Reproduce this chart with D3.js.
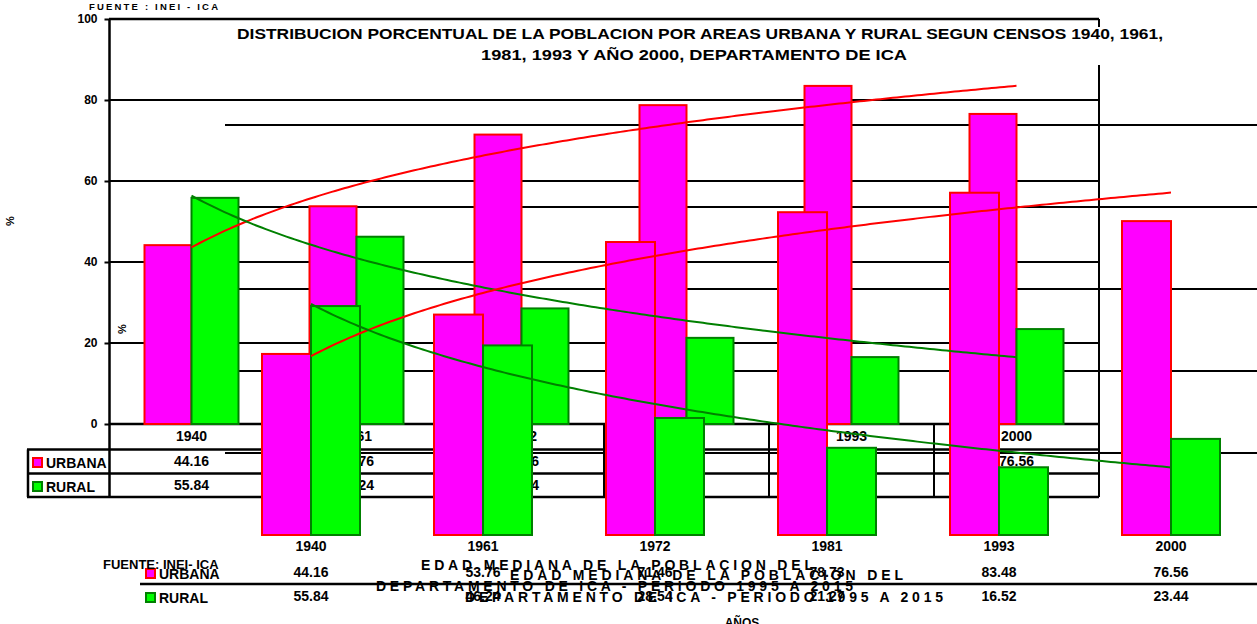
<!DOCTYPE html>
<html>
<head>
<meta charset="utf-8">
<script src="https://cdn.jsdelivr.net/npm/d3@7"></script>
<style>
  html, body { margin: 0; padding: 0; background: #fff; }
  svg { display: block; }
  text { font-family: "Liberation Sans", Arial, sans-serif; font-weight: bold; fill: #000; }
</style>
</head>
<body>
<svg id="chart" width="1257" height="624"></svg>
<script>
// Census years and the urban / rural share of the population (%)
const years = ["1940", "1961", "1972", "1981", "1993", "2000"];
const urbana = [44.16, 53.76, 71.46, 78.73, 83.48, 76.56];
const rural = [55.84, 46.24, 28.54, 21.27, 16.52, 23.44];
const yTicks = [0, 20, 40, 60, 80, 100];
const gridTicks = [20, 40, 60, 80];
const seriesNames = ["URBANA", "RURAL"];

const titleLines = [
  "DISTRIBUCION PORCENTUAL DE LA POBLACION POR AREAS URBANA Y RURAL SEGUN CENSOS 1940, 1961,",
  "1981, 1993 Y  AÑO 2000, DEPARTAMENTO DE ICA"
];
const noteLines = [
  "EDAD MEDIANA DE LA POBLACION DEL",
  "DEPARTAMENTO DE ICA - PERIODO 1995 A 2015"
];

const COL = {
  urbanaFill: "#ff00ff", urbanaStroke: "#ff0000",
  ruralFill: "#00ff00", ruralStroke: "#008000"
};

const svg = d3.select("#chart");
svg.append("rect").attr("width", 1257).attr("height", 624).attr("fill", "#fff");

const rows = years.map((y, i) => ({ year: y, URBANA: urbana[i], RURAL: rural[i] }));

// Logarithmic trend y = a*ln(x) + b over category index x = 1..n
function logFit(vals) {
  const xs = vals.map((_, i) => Math.log(i + 1));
  const mx = d3.mean(xs), my = d3.mean(vals);
  let sxy = 0, sxx = 0;
  xs.forEach((x, i) => { sxy += (x - mx) * (vals[i] - my); sxx += (x - mx) * (x - mx); });
  const a = sxy / sxx, b = my - a * mx;
  return t => a * Math.log(t) + b;
}
const fitU = logFit(urbana);
const fitR = logFit(rural);

// Back panel (with data table below the axis)
const A = {
  x: d3.scaleBand().domain(years).range([109, 1099]),
  y: d3.scaleLinear().domain([0, 100]).range([424, 19]),
  barW: 47
};
// Front panel
const B = {
  x: d3.scaleBand().domain(years).range([225, 1257]),
  y: d3.scaleLinear().domain([0, 100]).range([535, 125]),
  barW: 49
};
[A, B].forEach(p => {
  const bw = p.x.bandwidth();
  p.sub = d3.scaleBand().domain(seriesNames).range([bw / 2 - p.barW, bw / 2 + p.barW]);
  p.cx = y => p.x(y) + bw / 2;
});

const gGrid = svg.append("g");
const gTableA = svg.append("g");
const gBarsA = svg.append("g");
const gBarsB = svg.append("g");
const gTrend = svg.append("g");
const gText = svg.append("g");

// --- gridlines ---
gGrid.selectAll("line.ga").data(gridTicks).join("line")
  .attr("x1", 109).attr("x2", 1099)
  .attr("y1", d => A.y(d)).attr("y2", d => A.y(d))
  .attr("stroke", "#000").attr("stroke-width", 2);
gGrid.selectAll("line.gb").data(gridTicks.concat([100])).join("line")
  .attr("x1", 225).attr("x2", 1257)
  .attr("y1", d => B.y(d)).attr("y2", d => B.y(d))
  .attr("stroke", "#000").attr("stroke-width", 2);

// plot frame of the back panel
gGrid.append("line").attr("x1", 109).attr("x2", 1099).attr("y1", A.y(100)).attr("y2", A.y(100))
  .attr("stroke", "#000").attr("stroke-width", 2.5);
gGrid.append("line").attr("x1", 1099).attr("x2", 1099).attr("y1", A.y(100)).attr("y2", 497)
  .attr("stroke", "#000").attr("stroke-width", 2);

// y axis of the back panel
const axisA = d3.axisLeft(A.y).tickValues(yTicks).tickSize(5).tickPadding(7);
const gAxis = gGrid.append("g").attr("transform", "translate(109.5,0)").call(axisA);
gAxis.select(".domain").remove();
gAxis.selectAll(".tick line").attr("stroke", "#000").attr("stroke-width", 2);
gAxis.selectAll(".tick text").attr("font-size", 12).attr("font-family", "Liberation Sans, Arial, sans-serif")
  .attr("font-weight", "bold").attr("fill", "#000");
gGrid.append("line").attr("x1", 109.5).attr("x2", 109.5).attr("y1", A.y(100)).attr("y2", 497)
  .attr("stroke", "#000").attr("stroke-width", 2.5);

// --- data table under the back panel ---
const tA = { top: A.y(0), r1: 449.5, r2: 473.5, bottom: 497 };
[[109, tA.top], [27, tA.r1], [27, tA.r2], [27, tA.bottom]].forEach(([x1, y]) => {
  gTableA.append("line").attr("x1", x1).attr("x2", 1099).attr("y1", y).attr("y2", y)
    .attr("stroke", "#000").attr("stroke-width", 2.5);
});
gTableA.append("line").attr("x1", 28).attr("x2", 28).attr("y1", tA.r1).attr("y2", tA.bottom)
  .attr("stroke", "#000").attr("stroke-width", 2.5);
gTableA.selectAll("line.col").data(years.slice(1)).join("line")
  .attr("x1", d => A.x(d)).attr("x2", d => A.x(d))
  .attr("y1", tA.top).attr("y2", tA.bottom)
  .attr("stroke", "#000").attr("stroke-width", 2);

gTableA.selectAll("text.yr").data(years).join("text")
  .attr("x", d => A.cx(d)).attr("y", 441).attr("text-anchor", "middle").attr("font-size", 14)
  .text(d => d);
gTableA.selectAll("text.vu").data(rows).join("text")
  .attr("x", d => A.cx(d.year)).attr("y", 466).attr("text-anchor", "middle").attr("font-size", 14)
  .text(d => d.URBANA.toFixed(2));
gTableA.selectAll("text.vr").data(rows).join("text")
  .attr("x", d => A.cx(d.year)).attr("y", 490).attr("text-anchor", "middle").attr("font-size", 14)
  .text(d => d.RURAL.toFixed(2));

function legendKey(g, x, y, name) {
  const urb = name === "URBANA";
  g.append("rect").attr("x", x).attr("y", y).attr("width", 9).attr("height", 9)
    .attr("fill", urb ? COL.urbanaFill : COL.ruralFill)
    .attr("stroke", urb ? COL.urbanaStroke : COL.ruralStroke).attr("stroke-width", 2);
  g.append("text").attr("x", x + 13).attr("y", y + 9.5).attr("font-size", 14).text(name);
}
legendKey(gTableA, 33, 458, "URBANA");
legendKey(gTableA, 33, 482, "RURAL");

// --- bars ---
function drawBars(g, p) {
  const grp = g.selectAll("g").data(rows).join("g")
    .attr("transform", d => `translate(${p.x(d.year)},0)`);
  grp.selectAll("rect").data(d => seriesNames.map(s => ({ s, v: d[s] }))).join("rect")
    .attr("x", d => p.sub(d.s)).attr("width", p.sub.bandwidth())
    .attr("y", d => p.y(d.v)).attr("height", d => p.y(0) - p.y(d.v))
    .attr("fill", d => d.s === "URBANA" ? COL.urbanaFill : COL.ruralFill)
    .attr("stroke", d => d.s === "URBANA" ? COL.urbanaStroke : COL.ruralStroke)
    .attr("stroke-width", 2);
}
drawBars(gBarsA, A);
drawBars(gBarsB, B);

// --- logarithmic trend lines ---
function drawTrend(p, fit, color) {
  const n = years.length;
  const ts = d3.range(0, 201).map(k => 1 + (n - 1) * k / 200);
  const x0 = p.cx(years[0]), step = p.x.step();
  const line = d3.line().x(t => x0 + (t - 1) * step).y(t => p.y(fit(t)));
  gTrend.append("path").attr("d", line(ts)).attr("fill", "none")
    .attr("stroke", color).attr("stroke-width", 2);
}
drawTrend(A, fitU, "#ff0000");
drawTrend(A, fitR, "#008000");
drawTrend(B, fitU, "#ff0000");
drawTrend(B, fitR, "#008000");

// --- front panel table ---
gText.selectAll("text.byr").data(years).join("text")
  .attr("x", d => B.cx(d)).attr("y", 551).attr("text-anchor", "middle").attr("font-size", 14)
  .text(d => d);
gText.selectAll("text.bvu").data(rows).join("text")
  .attr("x", d => B.cx(d.year)).attr("y", 577).attr("text-anchor", "middle").attr("font-size", 14)
  .text(d => d.URBANA.toFixed(2));
gText.selectAll("text.bvr").data(rows).join("text")
  .attr("x", d => B.cx(d.year)).attr("y", 601).attr("text-anchor", "middle").attr("font-size", 14)
  .text(d => d.RURAL.toFixed(2));
gText.append("line").attr("x1", 140).attr("x2", 1257).attr("y1", 584).attr("y2", 584)
  .attr("stroke", "#000").attr("stroke-width", 2.5);
legendKey(gText, 146, 569, "URBANA");
legendKey(gText, 146, 593, "RURAL");

gText.append("text").attr("x", 103).attr("y", 569).attr("font-size", 13).text("FUENTE: INEI- ICA");

// median-age caption, two overlapping copies
[[421, 570, 392, 0], [376, 591, 477, 1], [510, 580, 393, 0], [465, 602, 478, 1]].forEach(([x, y, w, i]) => {
  gText.append("text").attr("x", x).attr("y", y).attr("font-size", 14)
    .attr("textLength", w).attr("lengthAdjust", "spacing").text(noteLines[i]);
});

gText.append("text").attr("x", 742).attr("y", 627).attr("text-anchor", "middle").attr("font-size", 12).text("AÑOS");

// axis titles
gText.append("text").attr("transform", "translate(14,221) rotate(-90)").attr("text-anchor", "middle")
  .attr("font-size", 11).text("%");
gText.append("text").attr("transform", "translate(126,329) rotate(-90)").attr("text-anchor", "middle")
  .attr("font-size", 11).text("%");

// source note
gText.append("text").attr("x", 89).attr("y", 10).attr("font-size", 9.5)
  .attr("textLength", 129).attr("lengthAdjust", "spacing").text("FUENTE : INEI - ICA");

// title on a white box
gText.append("rect").attr("x", 232).attr("y", 27).attr("width", 936).attr("height", 38).attr("fill", "#fff");
gText.append("text").attr("x", 237).attr("y", 39).attr("font-size", 15)
  .attr("textLength", 926).attr("lengthAdjust", "spacingAndGlyphs").text(titleLines[0]);
gText.append("text").attr("x", 481).attr("y", 60).attr("font-size", 15)
  .attr("textLength", 426).attr("lengthAdjust", "spacingAndGlyphs").text(titleLines[1]);
</script>
</body>
</html>
